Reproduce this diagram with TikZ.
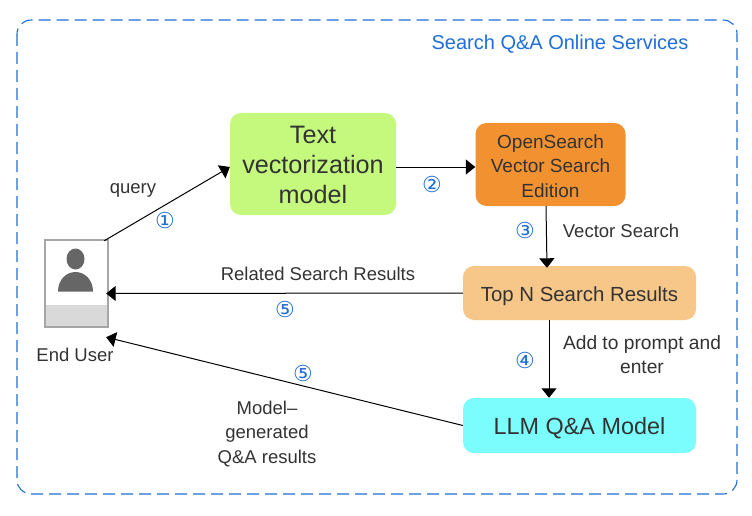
\documentclass[tikz,border=0pt]{standalone}
\usepackage{fontspec}
\setmainfont{Liberation Sans}
\newfontfamily\circfont{DejaVu Sans}
\usetikzlibrary{arrows.meta,calc}
\definecolor{frameblue}{HTML}{1F6FD6}
\definecolor{txt}{HTML}{333333}
\definecolor{cgreen}{HTML}{C5F97E}
\definecolor{corange}{HTML}{F29130}
\definecolor{cpeach}{HTML}{F7C789}
\definecolor{ccyan}{HTML}{7CFDFD}
\newcommand{\boxtext}[2]{\raisebox{#1}[\height][\depth]{\begin{tabular}{@{}c@{}}#2\end{tabular}}}
\tikzset{
  x=1pt,y=-1pt,
  boxn/.style={draw=none,rounded corners=11pt,text=txt,align=center,inner sep=0pt},
  lab/.style={text=txt,align=center,font=\fontsize{18.5}{24.5}\selectfont,inner sep=0pt},
  num/.style={text=frameblue,font=\circfont\fontsize{22}{24}\selectfont,inner sep=0pt},
  conn/.style={draw=black,line width=1pt,-{Triangle[width=15pt,length=9.5pt]}},
}
\begin{document}
\begin{tikzpicture}
\useasboundingbox (0,0) rectangle (752,516);
\fill[white] (0,0) rectangle (752,516);
\draw[frameblue,line width=1.1pt,dash pattern=on 12pt off 6pt,rounded corners=14pt] (17,20) rectangle (737,494);
\node[text=frameblue,font=\fontsize{20}{24}\selectfont,inner sep=0pt] (title) at (560,44.5) {Search Q\&A Online Services};

\node[boxn,fill=cgreen,minimum width=166pt,minimum height=102pt,font=\fontsize{25.2}{30.2}\selectfont] (text) at (313,164) {\boxtext{-3.5pt}{Text\\vectorization\\model}};
\node[boxn,fill=corange,minimum width=150pt,minimum height=83pt,font=\fontsize{19}{24.8}\selectfont] (open) at (550.5,164.5) {\boxtext{-3.5pt}{OpenSearch\\Vector Search\\Edition}};
\node[boxn,fill=cpeach,minimum width=233pt,minimum height=54pt,font=\fontsize{20.4}{24}\selectfont] (top) at (579.5,293) {\boxtext{-3.5pt}{Top N Search Results}};
\node[boxn,fill=ccyan,minimum width=233pt,minimum height=55pt,font=\fontsize{23.4}{28}\selectfont] (llm) at (579.5,425.5) {\boxtext{-3pt}{LLM Q\&A Model}};

% user icon
\node[draw=none,minimum width=64pt,minimum height=89pt,inner sep=0pt] (user) at (76,283.5) {};
\fill[white] (44,239) rectangle (108,328);
\fill[black!15] (44.5,305) rectangle (107.5,326.5);
\draw[black!35,line width=2pt] (44.5,240) rectangle (107.5,326.5);
\fill[black!60] (75.5,259) ellipse (9pt and 10.5pt);
\fill[black!60] (58,291.5) .. controls (58,280) and (66,272) .. (75.5,272) .. controls (85,272) and (93,280) .. (93,291.5) -- cycle;
\node[lab] (enduser) at (75,355) {End User};

\draw[conn] ($(user.north east)+(-4,2)$) -- ($(text.west)+(0,3)$);
\draw[conn] ($(text.east)+(0,3)$) -- ($(open.west)+(0,2.5)$);
\draw[conn] ($(open.south)+(-4.5,0)$) -- ($(top.north)+(-32.5,2)$);
\draw[conn] (top.west) -- ($(user.east)+(-2,10)$);
\draw[conn] ($(top.south)+(-30.5,0)$) -- ($(llm.north)+(-30.5,0)$);
\draw[conn] (llm.west) -- ($(user.south east)+(-2,9)$);

\node[lab] (query) at (133,190) {query};
\node[lab] (vs) at (621,231) {Vector Search};
\node[lab] (rel) at (318,274) {Related Search Results};
\node[lab,font=\fontsize{19.2}{24.5}\selectfont] (add) at (642,354.5) {Add to prompt and\\enter};
\node[lab] (gen) at (267,434) {Model--\\generated\\Q\&A results};

\node[num] (n1) at (165,220) {①};
\node[num] (n2) at (432,184) {②};
\node[num] (n3) at (525,230) {③};
\node[num] (n5a) at (285,309) {⑤};
\node[num] (n4) at (525,360) {④};
\node[num] (n5b) at (303,373) {⑤};
\end{tikzpicture}
\end{document}
